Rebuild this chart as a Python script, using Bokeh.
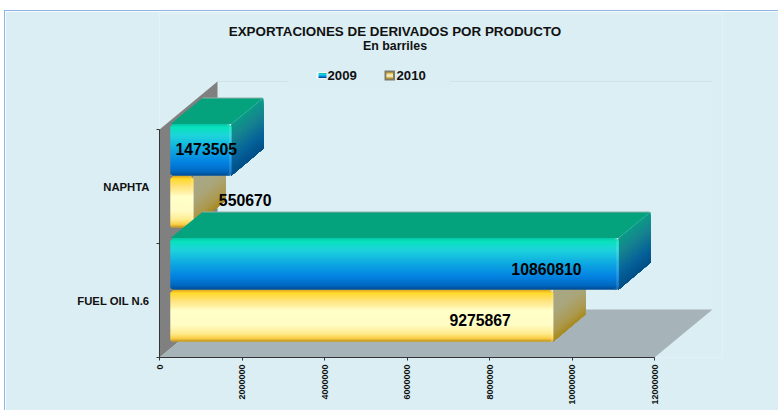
from bokeh.plotting import figure
from bokeh.embed import file_html
from bokeh.resources import INLINE
from bokeh.models import Range1d, FixedTicker, Label, LinearAxis, NumeralTickFormatter
import math

categories = ["FUEL OIL N.6", "NAPHTA"]
series_2009 = [10860810, 1473505]
series_2010 = [9275867, 550670]
x_ticks = [0, 2000000, 4000000, 6000000, 8000000, 10000000, 12000000]
legend_labels = ["2009", "2010"]

W, H = 774, 400
OX, OY = 4, 10          # figure position on the page
PX, PY = OX + 1, OY + 1 # page origin of the canvas (border included)
X0, Y0 = 159, 357       # page pixel of value 0 / category floor
XMAX_PX = 654
UNIT_PX = 114.0
F_L, F_T, F_R = 159, 13, 722
VPP = 12000000 / (XMAX_PX - X0)   # value per px

def X(px):
    return (px - X0) * VPP
def Y(py):
    return (Y0 - py) / UNIT_PX

p = figure(width=W, height=H, output_backend="svg", toolbar_location=None,
           x_range=Range1d(X(F_L), X(F_R)), y_range=Range1d(Y(Y0), Y(F_T)),
           min_border_left=F_L - PX, min_border_right=W - (F_R - PX),
           min_border_top=F_T - PY, min_border_bottom=H - (Y0 - PY),
           background_fill_color="#dbeef4", border_fill_color="#dbeef4",
           outline_line_color=None, x_axis_type=None, y_axis_type=None)
p.grid.visible = False
p.styles = {"position": "absolute", "left": f"{OX}px", "top": f"{OY}px",
            "border-left": "1px solid #8fb3e4", "border-top": "1px solid #8fb3e4",
            "box-sizing": "border-box"}

# 3-D geometry (px)
WALL_DX, WALL_DY = 58, 48
BAR_DX, BAR_DY = 32, 26
SHIFT_DX, SHIFT_DY = 11, 11
BAR_H = 51.5

def hex2rgb(c):
    return [int(c[i:i + 2], 16) for i in (1, 3, 5)]

def lerp(stops, t):
    for (t0, c0), (t1, c1) in zip(stops, stops[1:]):
        if t <= t1:
            f = (t - t0) / (t1 - t0) if t1 > t0 else 0
            a, b = hex2rgb(c0), hex2rgb(c1)
            return "#%02x%02x%02x" % tuple(round(a[k] + (b[k] - a[k]) * f) for k in range(3))
    return stops[-1][1]

def lighten(c, f):
    a = hex2rgb(c)
    return "#%02x%02x%02x" % tuple(round(v + (255 - v) * f) for v in a)

BLUE_FRONT = [(0, "#06c9a8"), (.06, "#08e2bc"), (.22, "#1ed4dc"), (.5, "#0ea8e2"), (.75, "#0484e2"),
              (.93, "#0068c0"), (1, "#004f96")]
BLUE_SIDE = [(0, "#0c9a88"), (.3, "#17848f"), (.7, "#07639a"), (1, "#004f88")]
YEL_FRONT = [(0, "#e2b020"), (.05, "#ffd92a"), (.2, "#ffe27a"), (.4, "#ffffc8"), (.68, "#fffcc4"),
             (.85, "#ffeb90"), (.95, "#fccf45"), (1, "#c69a20")]
YEL_SIDE = [(0, "#a8a888"), (.45, "#aaa67c"), (.8, "#ac9a50"), (1, "#a88a20")]
GREEN_TOP = "#05a27e"

# back wall, side wall, floor
p.patch([X(217), X(712), X(712), X(217)], [Y(81), Y(81), Y(310), Y(310)],
        fill_color="#dceff5", line_color=None)
p.segment([X(217)], [Y(81)], [X(712)], [Y(81)], line_color="#cfe3ea", line_width=1)
p.patch([X(159), X(159 + WALL_DX), X(159 + WALL_DX), X(159)],
        [Y(129), Y(129 - WALL_DY), Y(357 - WALL_DY), Y(357)],
        fill_color="#808080", line_color=None)
p.patch([X(159), X(654), X(654 + WALL_DX), X(159 + WALL_DX)],
        [Y(357), Y(357), Y(357 - WALL_DY), Y(357 - WALL_DY)],
        fill_color="#a6b3b8", line_color=None)

def draw_bar(value, bottom_px, front, side, top_col):
    l = X0 + SHIFT_DX
    r = l + value / VPP
    t = bottom_px - BAR_H
    # top face
    p.patch([X(l), X(r), X(r + BAR_DX), X(l + BAR_DX)],
            [Y(t), Y(t), Y(t - BAR_DY), Y(t - BAR_DY)],
            fill_color=top_col, line_color=None)
    p.segment([X(l + BAR_DX)], [Y(t - BAR_DY)], [X(r + BAR_DX - 1)], [Y(t - BAR_DY)],
              line_color="#8fb0a8", line_width=1)
    # side face strips (each overlaps the next, so no seams)
    n = int(BAR_H)
    xs, ys, cs = [], [], []
    for i in range(n):
        a = t + i * BAR_H / n
        xs.append([X(r), X(r + BAR_DX), X(r + BAR_DX), X(r)])
        ys.append([Y(a), Y(a - BAR_DY), Y(bottom_px - 1 - BAR_DY), Y(bottom_px)])
        cs.append(lerp(side, i / (n - 1)))
    p.patches(xs, ys, fill_color=cs, line_color=None)
    # front face strips with softened corners and bright rim on the right
    ql, qr, qt, qb, qc, rl, rc = [], [], [], [], [], [], []
    for i in range(n):
        d = min(i, n - 1 - i)
        ins = {0: 2, 1: 1}.get(d, 0)
        a = t + i * BAR_H / n
        ql.append(X(l + ins)); qr.append(X(r - ins))
        qt.append(Y(a))
        qb.append(Y(min(a + 2.0, bottom_px)))
        qc.append(lerp(front, i / (n - 1)))
        rl.append(X(r - ins - 2))
        rc.append(lighten(qc[-1], 0.14))
    p.quad(left=ql, right=qr, top=qt, bottom=qb, fill_color=qc, line_color=None)
    p.quad(left=rl, right=qr, top=qt, bottom=qb, fill_color=rc, line_color=None)

bottoms_2009, bottoms_2010 = {}, {}
for idx in [1, 0]:
    b09 = Y0 - (idx + 0.5) * UNIT_PX - SHIFT_DY
    b10 = b09 + BAR_H + 0.5
    bottoms_2009[idx], bottoms_2010[idx] = b09, b10
    draw_bar(series_2010[idx], b10, YEL_FRONT, YEL_SIDE, "#c9b060")
    draw_bar(series_2009[idx], b09, BLUE_FRONT, BLUE_SIDE, GREEN_TOP)

# axes
xa = LinearAxis(ticker=FixedTicker(ticks=x_ticks), bounds=(0, 12000000),
                major_label_orientation=math.pi / 2,
                major_label_text_font="Liberation Sans", major_label_text_font_size="9px",
                major_label_text_font_style="bold", major_label_text_color="#111111",
                axis_line_color="#333333", major_tick_line_color="#333333",
                major_tick_in=0, major_tick_out=3, minor_tick_line_color=None,
                major_label_standoff=4, formatter=NumeralTickFormatter(format="0"))
p.add_layout(xa, "below")

ya = LinearAxis(ticker=FixedTicker(ticks=[0.5, 1.5], minor_ticks=[0, 1, 2]), bounds=(0, 2),
                major_label_overrides={0.5: categories[0], 1.5: categories[1]},
                major_label_text_font="Liberation Sans", major_label_text_font_size="11.3px",
                major_label_text_font_style="bold", major_label_text_color="#111111",
                axis_line_color="#333333", major_tick_line_color=None,
                minor_tick_line_color="#333333", minor_tick_in=0, minor_tick_out=3,
                major_tick_in=0, major_tick_out=0, major_label_standoff=7)
p.add_layout(ya, "left")

# data labels: offsets from the bar's end (px) and from its mid height
LABEL_DX_2009, LABEL_DY_2009 = [-72, -25], [5, -1]
LABEL_DX_2010, LABEL_DY_2010 = [-73, 52], [4, -2]
for vals, bots, dxs, dys in [(series_2009, bottoms_2009, LABEL_DX_2009, LABEL_DY_2009),
                             (series_2010, bottoms_2010, LABEL_DX_2010, LABEL_DY_2010)]:
    for idx, v in enumerate(vals):
        ypx = bots[idx] - BAR_H / 2 + dys[idx]
        p.add_layout(Label(x=X(X0 + SHIFT_DX + v / VPP + dxs[idx]), y=Y(ypx), text=str(v),
                           text_align="center", text_baseline="middle",
                           text_font="Liberation Sans", text_font_size="15.8px",
                           text_font_style="bold", text_color="#000000"))

def txt(x, y, s, size, align="center"):
    p.add_layout(Label(x=X(x), y=Y(y), text=s, text_align=align, text_baseline="middle",
                       text_font="Liberation Sans", text_font_size=size,
                       text_font_style="bold", text_color="#111111"))

txt(394.5, 30.5, "EXPORTACIONES DE DERIVADOS POR PRODUCTO", "13.4px")
txt(394.5, 45.5, "En barriles", "12.4px")

# legend
p.quad(left=[X(287)], right=[X(450)], top=[Y(88)], bottom=[Y(64)], fill_color="#dbeef4", line_color=None)
txt(327, 74.5, legend_labels[0], "13.2px", "left")
txt(396, 74.5, legend_labels[1], "13.2px", "left")
p.quad(left=[X(316)], right=[X(326)], top=[Y(71.5)], bottom=[Y(78)], fill_color="#f4fbfd", line_color=None)
for i in range(5):
    p.quad(left=[X(318)], right=[X(326)], top=[Y(72.5 + i)], bottom=[Y(73.6 + i)],
           fill_color=lerp(BLUE_FRONT, i / 4), line_color=None)
p.quad(left=[X(384)], right=[X(394.5)], top=[Y(70)], bottom=[Y(80)], fill_color="#7d7a68", line_color=None)
for i in range(6):
    p.quad(left=[X(386)], right=[X(392.5)], top=[Y(72 + i)], bottom=[Y(73.2 + i)],
           fill_color=lerp(YEL_FRONT, i / 5), line_color=None)

open("out.html", "w").write(file_html(p, INLINE))
